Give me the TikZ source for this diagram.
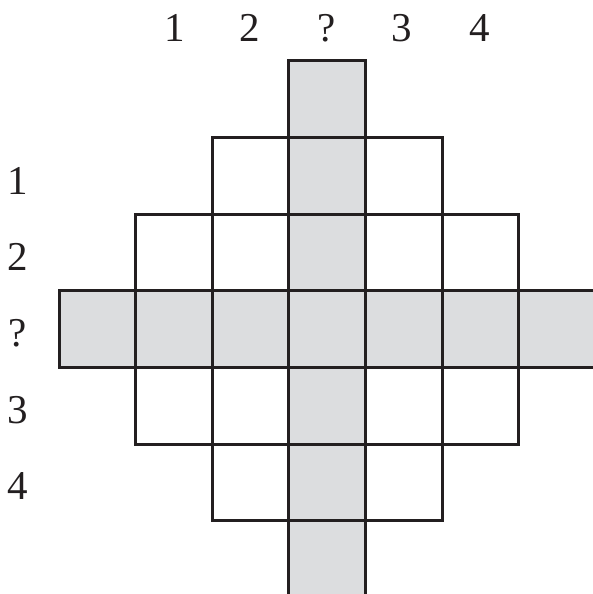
\documentclass[tikz,border=0pt]{standalone}
\usepackage{fontspec}
\setmainfont{Liberation Serif}
\definecolor{gridline}{HTML}{231F20}
\definecolor{cellgray}{HTML}{DCDDDF}
\tikzset{
  cellbox/.style={draw=gridline, line width=3pt},
  grayfill/.style={fill=cellgray},
  lbl/.style={inner sep=0pt, font=\fontsize{41}{41}\selectfont, text=gridline}
}
\begin{document}
\begin{tikzpicture}[x=1pt,y=-1pt]
\useasboundingbox (0,0) rectangle (593,594);
\clip (0,0) rectangle (593,594);
\def\sz{76.6}
\def\xo{59}
\def\yo{61}
% gray cross
\fill[grayfill] (\xo+3*\sz,\yo) rectangle (\xo+4*\sz,\yo+7*\sz);
\fill[grayfill] (\xo,\yo+3*\sz) rectangle (\xo+7*\sz,\yo+4*\sz);
% cells
\foreach \c/\r in {3/0, 2/1,3/1,4/1, 1/2,2/2,3/2,4/2,5/2, 0/3,1/3,2/3,3/3,4/3,5/3,6/3, 1/4,2/4,3/4,4/4,5/4, 2/5,3/5,4/5, 3/6}{
  \draw[cellbox] (\xo+\c*\sz,\yo+\r*\sz) rectangle (\xo+\c*\sz+\sz,\yo+\r*\sz+\sz);
}
% top labels
\node[lbl] (t1) at (175,28) {1};
\node[lbl] (t2) at (250,28) {2};
\node[lbl] (t3) at (327,28) {?};
\node[lbl] (t4) at (402,28) {3};
\node[lbl] (t5) at (480,28) {4};
% left labels
\node[lbl] (l1) at (18,181) {1};
\node[lbl] (l2) at (18,257) {2};
\node[lbl] (l3) at (18,333) {?};
\node[lbl] (l4) at (18,410) {3};
\node[lbl] (l5) at (18,486) {4};
\end{tikzpicture}
\end{document}
